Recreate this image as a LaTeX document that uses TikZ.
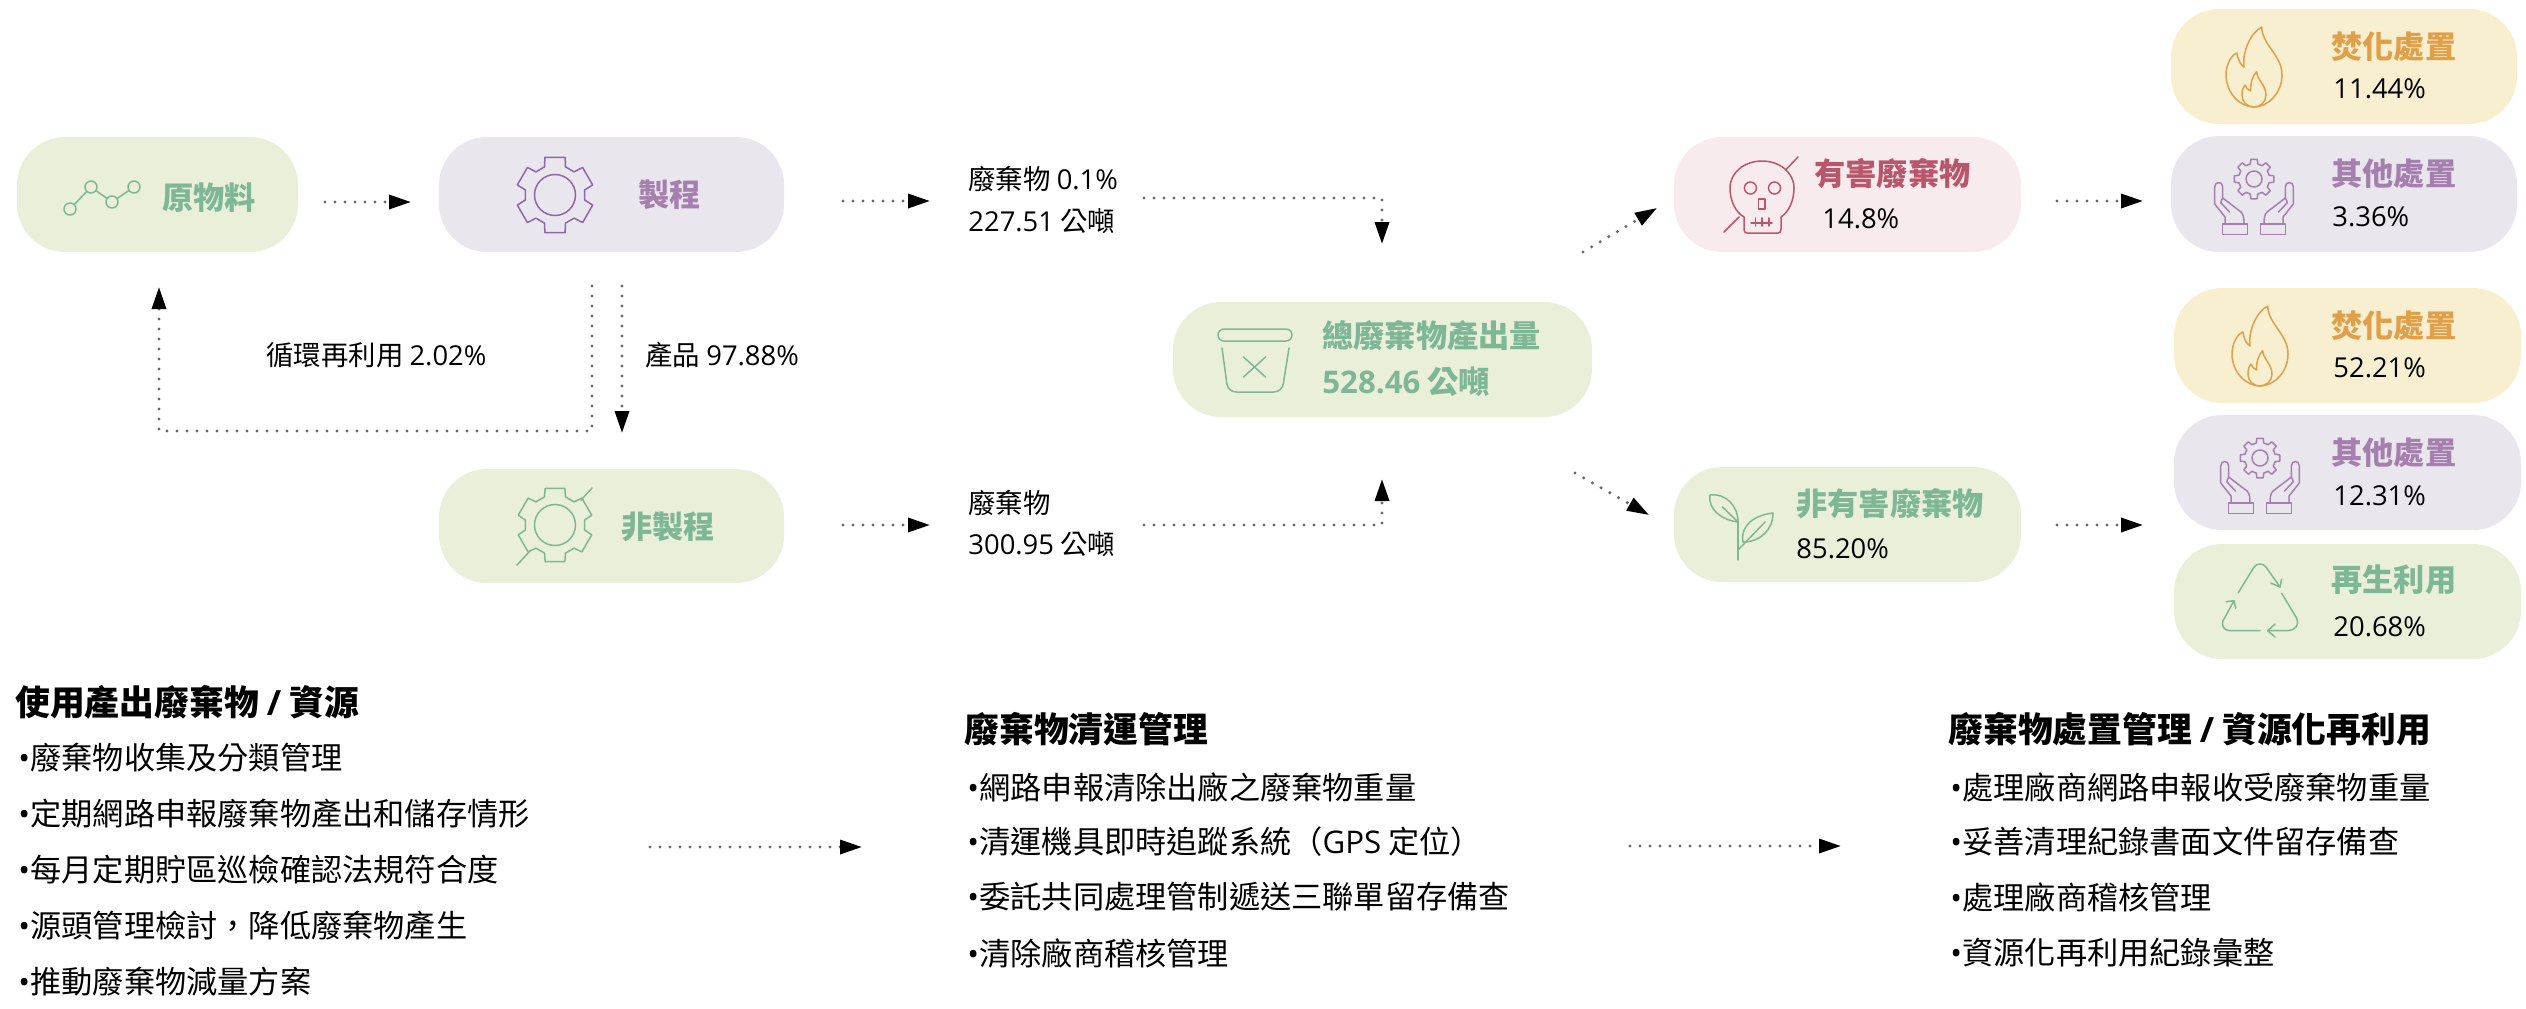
\documentclass[tikz,border=0pt]{standalone}
\usepackage{fontspec}
\usetikzlibrary{arrows.meta}
\setmainfont{Noto Sans CJK TC}
\newfontfamily\osf{Open Sans}
\newcommand{\os}[1]{{\osf #1}}
\definecolor{gbox}{HTML}{EAEFD9}
\definecolor{gtxt}{HTML}{7DB796}
\definecolor{pbox}{HTML}{EAE6EE}
\definecolor{ptxt}{HTML}{A57FAE}
\definecolor{pico}{HTML}{8E67A8}
\definecolor{rbox}{HTML}{F7EBED}
\definecolor{rtxt}{HTML}{B9566B}
\definecolor{ybox}{HTML}{F8EFD0}
\definecolor{ytxt}{HTML}{E0A04A}
\definecolor{dotc}{HTML}{6A6A6A}
\tikzset{
  pill/.style={rounded corners=24pt,draw=none,inner sep=0pt},
  head/.style={anchor=west,inner sep=0pt,font=\fontsize{15.6pt}{18pt}\selectfont\bfseries},
  lab/.style={anchor=west,inner sep=0pt,text=black,font=\fontsize{13.7pt}{16pt}\selectfont},
  ttl/.style={anchor=west,inner sep=0pt,text=black,font=\fontsize{17.4pt}{20pt}\selectfont\bfseries},
  itm/.style={anchor=west,inner sep=0pt,text=black,font=\fontsize{15.6pt}{18pt}\selectfont},
  flow/.style={draw=dotc,line width=1.7pt,line cap=round,dash pattern=on 0pt off 5pt,
     -{Triangle[length=11pt,width=7pt,fill=black,color=black]}},
  icon/.style={line width=0.75pt,line join=round,line cap=round},
}
\newcommand{\bul}{\makebox[6pt][l]{\os{•}}}
\newcommand{\geardraw}[7]{%
  \begin{scope}[shift={(#1,#2)}]
  \draw[icon] ({90-#7}:#5) \foreach \k in {1,...,#3}{
     -- ({90+(\k-1)*360/#3-#7}:#5) -- ({90+(\k-1)*360/#3-#6}:#4)
     -- ({90+(\k-1)*360/#3+#6}:#4) -- ({90+(\k-1)*360/#3+#7}:#5)} -- cycle;
  \end{scope}}
\newcommand{\flameicon}[2]{%
  \begin{scope}[shift={(#1,#2)},ytxt]
  \draw[icon] (7.7,-48) .. controls (8,-30) and (28,-20) .. (28,0) .. controls (28,18) and (14,32) .. (0,32)
     .. controls (-14,32) and (-28,18) .. (-28,0) .. controls (-28,-10) and (-23,-20) .. (-17,-22)
     .. controls (-16,-14) and (-13,-10) .. (-10,-8) .. controls (-12,-22) and (-4,-42) .. (7.7,-48) -- cycle;
  \draw[icon] (2.7,-3.3) .. controls (3,5) and (12,10) .. (12,20) .. controls (12,27) and (6,32) .. (0,32)
     .. controls (-7,32) and (-12,27) .. (-12,20) .. controls (-12,15) and (-11,12) .. (-9,10)
     .. controls (-8,13) and (-6,15) .. (-3.3,16) .. controls (-4,8) and (-1,0) .. (2.7,-3.3) -- cycle;
  \end{scope}}
\newcommand{\handpart}{%
  \draw[icon] (-31.3,45) rectangle (-6.7,55.3);
  \draw[icon] (-29,45) -- (-29,38) -- (-39.3,25) -- (-39.3,8) .. controls (-39.3,2) and (-31.3,2) .. (-31.3,8)
     -- (-31.3,19) -- (-13,33) .. controls (-11,35) and (-10,38) .. (-10,45);
  \draw[icon] (-33,24) -- (-24.5,33);
  \draw[icon] (-31.3,19) .. controls (-33,21) and (-33,23) .. (-33,24);
}
\newcommand{\handsicon}[2]{%
  \begin{scope}[ptxt]
  \geardraw{#1}{#2}{8}{20}{15.5}{9}{14}
  \draw[icon] (#1,#2) circle (8);
  \begin{scope}[shift={(#1,#2)}]\handpart\end{scope}
  \begin{scope}[shift={(#1,#2)},xscale=-1]\handpart\end{scope}
  \end{scope}}
\begin{document}
\begin{tikzpicture}[x=0.5pt,y=-0.5pt]
\useasboundingbox (0,0) rectangle (2526,1008);
% boxes
\node[pill,fill=gbox,minimum width=140.5pt,minimum height=57.5pt] (raw) at (157.5,194.5) {};
\node[pill,fill=pbox,minimum width=172.5pt,minimum height=57.5pt] (proc) at (611.5,194.5) {};
\node[pill,fill=gbox,minimum width=172.5pt,minimum height=57pt] (nproc) at (611.5,526) {};
\node[pill,fill=gbox,minimum width=209.5pt,minimum height=57.5pt] (total) at (1382.5,359.5) {};
\node[pill,fill=rbox,minimum width=173.5pt,minimum height=57.5pt] (haz) at (1847.5,194.5) {};
\node[pill,fill=gbox,minimum width=173.5pt,minimum height=57.5pt] (nhaz) at (1847.5,524.5) {};
\node[pill,fill=ybox,minimum width=173pt,minimum height=57.5pt] (inc1) at (2344,66.5) {};
\node[pill,fill=pbox,minimum width=173pt,minimum height=58pt] (oth1) at (2344,194) {};
\node[pill,fill=ybox,minimum width=173.5pt,minimum height=57.5pt] (inc2) at (2347.5,345.5) {};
\node[pill,fill=pbox,minimum width=173.5pt,minimum height=57.5pt] (oth2) at (2347.5,472.5) {};
\node[pill,fill=gbox,minimum width=173.5pt,minimum height=57.5pt] (rec) at (2347.5,601.5) {};
% headings
\node[head,text=gtxt] (trawt) at (162,198) {原物料};
\node[head,text=ptxt] (tproc) at (638,195) {製程};
\node[head,text=gtxt] (tnproc) at (621,527) {非製程};
\node[head,text=gtxt] (ttot) at (1322,336) {總廢棄物產出量};
\node[head,text=gtxt] (ttot2) at (1322,382) {\os{528.46} 公噸};
\node[head,text=rtxt] (thaz) at (1814,174) {有害廢棄物};
\node[lab] (phaz) at (1822,219) {\os{14.8\%}};
\node[head,text=gtxt] (tnhaz) at (1796,504) {非有害廢棄物};
\node[lab] (pnhaz) at (1796,549) {\os{85.20\%}};
\node[head,text=ytxt] (tinc1) at (2331,47) {焚化處置};
\node[lab] (pinc1) at (2333,89) {\os{11.44\%}};
\node[head,text=ptxt] (toth1) at (2331,174) {其他處置};
\node[lab] (poth1) at (2332,217) {\os{3.36\%}};
\node[head,text=ytxt] (tinc2) at (2331,326) {焚化處置};
\node[lab] (pinc2) at (2333,368) {\os{52.21\%}};
\node[head,text=ptxt] (toth2) at (2331,453) {其他處置};
\node[lab] (poth2) at (2333,496) {\os{12.31\%}};
\node[head,text=gtxt] (trec) at (2331,580) {再生利用};
\node[lab] (prec) at (2333,627) {\os{20.68\%}};
% labels
\node[lab] (lrec) at (266,355) {循環再利用 \os{2.02\%}};
\node[lab] (lprod) at (645,355) {產品 \os{97.88\%}};
\node[lab] (lw1) at (968,179) {廢棄物 \os{0.1\%}};
\node[lab] (lw1b) at (968,221) {\os{227.51} 公噸};
\node[lab] (lw2) at (968,503) {廢棄物};
\node[lab] (lw2b) at (968,544) {\os{300.95} 公噸};
% lists
\node[ttl] (a0) at (15,702) {使用產出廢棄物 \os{/} 資源};
\node[itm] (a1) at (18,758) {\bul 廢棄物收集及分類管理};
\node[itm] (a2) at (18,814) {\bul 定期網路申報廢棄物產出和儲存情形};
\node[itm] (a3) at (18,870) {\bul 每月定期貯區巡檢確認法規符合度};
\node[itm] (a4) at (18,926) {\bul 源頭管理檢討，降低廢棄物產生};
\node[itm] (a5) at (18,982) {\bul 推動廢棄物減量方案};
\node[ttl] (b0) at (964,729) {廢棄物清運管理};
\node[itm] (b1) at (967,787) {\bul 網路申報清除出廠之廢棄物重量};
\node[itm] (b2) at (967,842) {\bul 清運機具即時追蹤系統（\os{GPS} 定位）};
\node[itm] (b3) at (967,897) {\bul 委託共同處理管制遞送三聯單留存備查};
\node[itm] (b4) at (967,953) {\bul 清除廠商稽核管理};
\node[ttl] (c0) at (1948,729) {廢棄物處置管理 \os{/} 資源化再利用};
\node[itm] (c1) at (1950,787) {\bul 處理廠商網路申報收受廢棄物重量};
\node[itm] (c2) at (1950,842) {\bul 妥善清理紀錄書面文件留存備查};
\node[itm] (c3) at (1950,897) {\bul 處理廠商稽核管理};
\node[itm] (c4) at (1950,953) {\bul 資源化再利用紀錄彙整};
% connector ends
\coordinate (f1a) at (325,202); \coordinate (f1b) at (411,202);
\coordinate (r1) at (592,286); \coordinate (r2) at (592,431); \coordinate (r3) at (159,431); \coordinate (r4) at (159,287);
\coordinate (p1) at (622,286); \coordinate (p2) at (622,433);
\coordinate (w1a) at (843,201); \coordinate (w1b) at (930,201);
\coordinate (w2a) at (843,525); \coordinate (w2b) at (930,525);
\coordinate (m1) at (1144,198); \coordinate (m2) at (1382,198); \coordinate (m3) at (1382,244);
\coordinate (n1) at (1144,525); \coordinate (n2) at (1382,525); \coordinate (n3) at (1382,479);
\coordinate (h1) at (1583,252); \coordinate (h2) at (1657,208);
\coordinate (k1) at (1575,473); \coordinate (k2) at (1649,515);
\coordinate (t1) at (2057,201); \coordinate (t2) at (2143,201);
\coordinate (u1) at (2057,525); \coordinate (u2) at (2143,525);
\coordinate (v1) at (650,847); \coordinate (v2) at (862,847);
\coordinate (z1) at (1630,846); \coordinate (z2) at (1841,846);
\draw[flow] (f1a) -- (f1b);
\draw[flow] (r1) -- (r2) -- (r3) -- (r4);
\draw[flow] (p1) -- (p2);
\draw[flow] (w1a) -- (w1b);
\draw[flow] (w2a) -- (w2b);
\draw[flow] (m1) -- (m2) -- (m3);
\draw[flow] (n1) -- (n2) -- (n3);
\draw[flow] (h1) -- (h2);
\draw[flow] (k1) -- (k2);
\draw[flow] (t1) -- (t2);
\draw[flow] (u1) -- (u2);
\draw[flow] (v1) -- (v2);
\draw[flow] (z1) -- (z2);
% sparkline icon
\begin{scope}[gtxt]
\foreach \n/\x/\y in {s1/70/209,s2/91/187,s3/112/202,s4/134/187}
  \node[circle,draw,icon,minimum size=6pt,inner sep=0pt] (\n) at (\x,\y) {};
\draw[icon] (s1) -- (s2); \draw[icon] (s2) -- (s3); \draw[icon] (s3) -- (s4);
\end{scope}
% gears
\begin{scope}[pico]
\geardraw{555}{195}{6}{39}{30}{15}{20.5}
\draw[icon] (555,195) circle (20.5);
\end{scope}
\begin{scope}[gtxt]
\geardraw{555}{525}{6}{38}{30}{15}{20.5}
\draw[icon] (555,525) circle (20.5);
\draw[icon] (592,488) -- (581,500);
\draw[icon] (517,565) -- (530,551);
\end{scope}
% bin
\begin{scope}[gtxt]
\draw[icon,rounded corners=3pt] (1218,329) rectangle (1292,341);
\draw[icon,rounded corners=4pt] (1222,348) -- (1228,392) -- (1282,392) -- (1289,348);
\draw[icon] (1243.5,377) -- (1265.5,357);
\draw[icon] (1243.5,357) -- (1265.5,377);
\end{scope}
% skull
\begin{scope}[rtxt]
\draw[icon] (1744,228) -- (1744,217) .. controls (1735,212) and (1730,200) .. (1730,188)
  .. controls (1730,172) and (1745,161) .. (1762,161) .. controls (1779,161) and (1794,172) .. (1794,188)
  .. controls (1794,200) and (1789,212) .. (1781,217) -- (1781,229) .. controls (1781,232) and (1780,233) .. (1778,233)
  -- (1747,233) .. controls (1745,233) and (1744,232) .. (1744,228) -- cycle;
\draw[icon] (1750.4,188) circle (6);
\draw[icon] (1774.5,188) circle (6);
\draw[icon] (1758.6,199) rectangle (1765,209);
\draw[icon] (1751,223) -- (1772,223);
\draw[icon] (1755.5,218) -- (1755.5,226);
\draw[icon] (1762,218) -- (1762,226);
\draw[icon] (1769,218) -- (1769,226);
\draw[icon] (1798,157) -- (1785.5,170);
\draw[icon] (1724,232) -- (1739,217);
\end{scope}
% leaf
\begin{scope}[gtxt]
\draw[icon] (1738,560) -- (1738,522);
\draw[icon] (1710,495) .. controls (1725,493) and (1738,505) .. (1738,522) .. controls (1722,520) and (1708,510) .. (1710,495) -- cycle;
\draw[icon] (1722.5,507) -- (1738,522);
\draw[icon] (1743,542) .. controls (1740,525) and (1755,515) .. (1773,513) .. controls (1773,530) and (1760,542) .. (1743,542) -- cycle;
\draw[icon] (1738,550) -- (1765,522);
\end{scope}
% flames and hands
\flameicon{2254}{75}
\handsicon{2254}{179}
\flameicon{2260}{354}
\handsicon{2260}{458}
% recycle
\begin{scope}[gtxt]
\draw[icon] (2238.3,592.7) -- (2254,567) .. controls (2257,563) and (2263,563) .. (2266,567) -- (2280,587);
\draw[icon] (2270.7,583) -- (2280,587) -- (2281.7,579);
\draw[icon] (2281.7,593.3) -- (2296.7,618.3) .. controls (2300,624) and (2295,630.7) .. (2288,630.7) -- (2267.7,630.7);
\draw[icon] (2275,624) -- (2267.7,630.7) -- (2275,637);
\draw[icon] (2260,630.7) -- (2230,630.7) .. controls (2224,630.7) and (2220,625) .. (2224,619) -- (2234,600.7);
\draw[icon] (2226,601.7) -- (2234,600.7) -- (2235.7,608.3);
\end{scope}
\end{tikzpicture}
\end{document}
